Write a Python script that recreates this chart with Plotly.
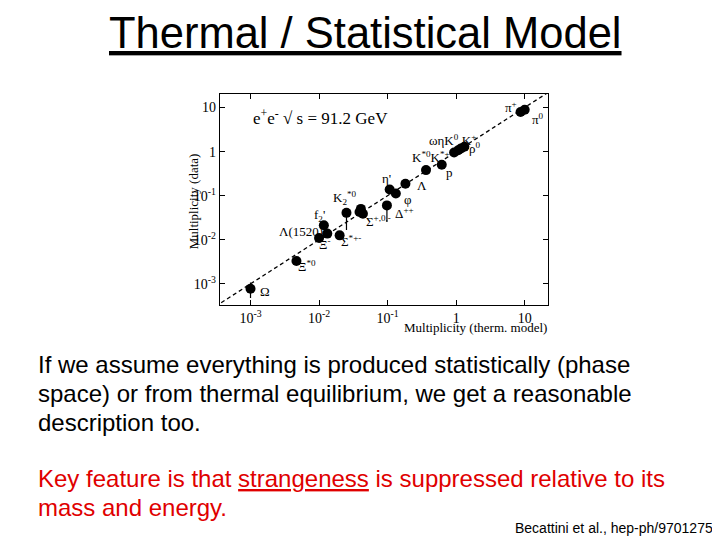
import plotly.graph_objects as go

# thermal model vs data multiplicities (log10 values)
particles = ["Omega", "Xi*0", "Lambda(1520)", "f2'", "Xi-", "Sigma*+-", "K2*0",
             "Sigma+", "Sigma0", "Sigma-", "Delta++", "eta'", "phi", "Lambda",
             "K*", "p", "omega", "eta", "K0s", "K+", "pi+", "pi0"]
log_model = [-3.0, -2.33, -2.0, -1.93, -1.88, -1.70, -1.60,
             -1.39, -1.36, -1.41, -1.01, -0.97, -0.88, -0.74,
             -0.44, -0.21, -0.03, 0.03, 0.07, 0.12, 0.94, 1.0]
log_data = [-3.11, -2.48, -1.96, -1.67, -1.86, -1.90, -1.39,
            -1.30, -1.41, -1.37, -1.22, -0.86, -0.95, -0.73,
            -0.42, -0.30, -0.02, 0.03, 0.07, 0.11, 0.90, 0.95]
err_up = [0.0003, 0.0, 0.0, 0.003, 0.0, 0.0, 0.0, 0.0, 0.0, 0.0, 0.0, 0.03, 0.0, 0.0,
          0.0, 0.0, 0.0, 0.0, 0.0, 0.0, 0.0, 0.0]
err_dn = [0.0003, 0.0, 0.0, 0.003, 0.0, 0.0, 0.024, 0.0, 0.0, 0.0, 0.035, 0.03, 0.0, 0.0,
          0.0, 0.0, 0.0, 0.0, 0.0, 0.0, 0.0, 0.0]

x = [10 ** v for v in log_model]
y = [10 ** v for v in log_data]

tick_vals = [0.001, 0.01, 0.1, 1, 10]
tick_text = ["10<sup>-3</sup>", "10<sup>-2</sup>", "10<sup>-1</sup>", "1", "10"]

# labels: (text, log x, log y)
labels = [
    ("π<sup>+</sup>", 0.80, 1.02), ("π<sup>0</sup>", 1.19, 0.73),
    ("ωηK<sup>0</sup><sub>s</sub>K<sup>+</sup>", -0.05, 0.25), ("ρ<sup>0</sup>", 0.28, 0.08),
    ("K<sup>*0</sup>K<sup>*+</sup>", -0.37, -0.12), ("p", -0.10, -0.48),
    ("η'", -1.02, -0.62), ("Λ", -0.50, -0.78), ("φ", -0.70, -1.08),
    ("K<sub>2</sub><sup>*0</sup>", -1.63, -1.05), ("Δ<sup>++</sup>", -0.75, -1.40),
    ("Σ<sup>+,0,-</sup>", -1.14, -1.58), ("f<sub>2</sub>'", -2.00, -1.46),
    ("Λ(1520)", -2.27, -1.82), ("Ξ<sup>-</sup>", -1.92, -2.10),
    ("Σ<sup>*+-</sup>", -1.53, -2.02), ("Ξ<sup>*0</sup>", -2.18, -2.60),
    ("Ω", -2.79, -3.18),
]

body_lines = ["If we assume everything is produced statistically (phase",
              "space) or from thermal equilibrium, we get a reasonable",
              "description too."]
red_lines = ["Key feature is that <u>strangeness</u> is suppressed relative to its",
             "mass and energy."]

fig = go.Figure()
fig.add_trace(go.Scatter(x=[10 ** -3.6, 10 ** 1.5], y=[10 ** -3.6, 10 ** 1.5], mode="lines",
                         line=dict(color="black", width=1.3, dash="4px,3px"), hoverinfo="skip"))
fig.add_trace(go.Scatter(x=x, y=y, mode="markers", text=particles,
                         marker=dict(color="black", size=10),
                         error_y=dict(type="data", array=err_up, arrayminus=err_dn,
                                      color="black", thickness=1.2, width=0)))

times = dict(family="Liberation Serif", color="black")
for txt, lx, ly in labels:
    fig.add_annotation(x=lx, y=ly, xref="x", yref="y", text=txt, showarrow=False,
                       font=dict(size=13, **times))
fig.add_annotation(x=-3.0, y=0.78, xref="x", yref="y", xanchor="left",
                   text="e<sup>+</sup>e<sup>-</sup> √ s = 91.2 GeV", showarrow=False,
                   font=dict(size=17, **times))
fig.add_annotation(x=0.750, y=0.424, xref="paper", yref="paper", xanchor="right", yanchor="top",
                   text="Multiplicity (therm. model)", showarrow=False, borderpad=0,
                   font=dict(size=13, **times))
fig.add_annotation(x=0.244, y=0.735, xref="paper", yref="paper", textangle=-90,
                   text="Multiplicity (data)", showarrow=False, font=dict(size=13, **times))

arial = dict(family="Liberation Sans", color="black")
fig.add_annotation(x=0.497, y=1.0, xref="paper", yref="paper", yanchor="top",
                   text="<u>Thermal / Statistical Model</u>", showarrow=False, borderpad=0,
                   font=dict(size=43.5, **arial))
for i, line in enumerate(body_lines):
    fig.add_annotation(x=0.04, y=0.339 - i * 0.0535, xref="paper", yref="paper", xanchor="left",
                       yanchor="middle", showarrow=False, borderpad=0,
                       font=dict(size=24, **arial), text=line)
for i, line in enumerate(red_lines):
    fig.add_annotation(x=0.04, y=0.128 - i * 0.0535, xref="paper", yref="paper", xanchor="left",
                       yanchor="middle", showarrow=False, borderpad=0,
                       font=dict(size=24, family="Liberation Sans", color="#e00000"), text=line)
fig.add_annotation(x=0.98, y=0.02, xref="paper", yref="paper", xanchor="right", yanchor="bottom",
                   showarrow=False, font=dict(size=14, **arial), borderpad=0,
                   text="Becattini et al., hep-ph/9701275")

axis_common = dict(type="log", showgrid=False, zeroline=False, ticks="inside", mirror="allticks",
                   showline=True, linecolor="black", linewidth=1, tickcolor="black",
                   tickvals=tick_vals, ticktext=tick_text, tickfont=dict(size=14, **times))
fig.update_xaxes(range=[-3.45, 1.34], domain=[0.294, 0.750], **axis_common)
fig.update_yaxes(range=[-3.48, 1.31], domain=[0.450, 0.841], **axis_common)

fig.update_layout(width=720, height=540, margin=dict(l=0, r=0, t=0, b=0),
                  plot_bgcolor="white", paper_bgcolor="white", showlegend=False)
fig.write_html("out.html")
